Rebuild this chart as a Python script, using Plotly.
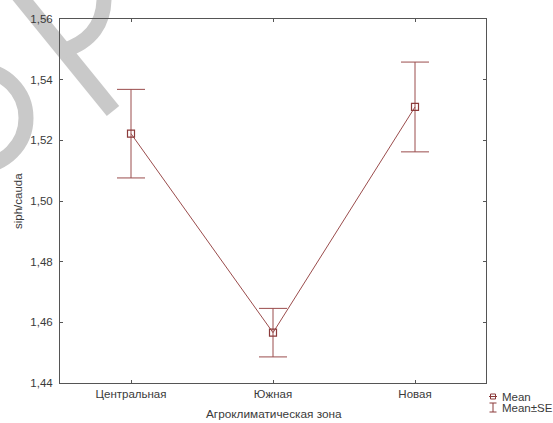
import plotly.graph_objects as go

# Mean siph/cauda ratio by agro-climatic zone, with standard errors
zones = ["Центральная", "Южная", "Новая"]
means = [1.5222, 1.4566, 1.5310]
se = [0.0146, 0.0080, 0.0148]

y_ticks = [1.44, 1.46, 1.48, 1.50, 1.52, 1.54, 1.56]

W, H = 553, 423
L, R, T, B = 60, 486, 19, 383  # plot area in pixels


def px(x):
    return (x - L) / (R - L)


def py(y):
    return (B - y) / (B - T)


def pt(x, y):
    return f"{px(x):.5f},{py(y):.5f}"


MARKER = "#8b3a3a"
LINE = "#9a4c4c"
AXIS = "#555555"
TEXT = "#3a3a3a"
FONT = "Liberation Sans, Arial, sans-serif"

fig = go.Figure()
fig.add_trace(go.Scatter(
    x=zones, y=means,
    mode="lines+markers",
    line=dict(color=LINE, width=1),
    marker=dict(symbol="square-open", size=7, color=MARKER, line=dict(width=1.2)),
    error_y=dict(type="data", array=se, visible=True, color=LINE, thickness=1, width=14),
    showlegend=False,
))

shapes = []
# grey logo stroke behind the upper-left corner
WM = "#c9c9c9"
shapes.append(dict(type="line", xref="paper", yref="paper", layer="below",
                   x0=px(18), y0=py(-6), x1=px(113), y1=py(111),
                   line=dict(color=WM, width=16)))
shapes.append(dict(type="path", xref="paper", yref="paper", layer="below",
                   path=f"M{pt(104, -5)} C{pt(105, 22)} {pt(92, 42)} {pt(62, 51)}",
                   line=dict(color=WM, width=15)))
shapes.append(dict(type="circle", xref="paper", yref="paper", layer="below",
                   x0=px(-22 - 48), y0=py(118 + 48), x1=px(-22 + 48), y1=py(118 - 48),
                   line=dict(color=WM, width=15)))

# legend glyphs
shapes.append(dict(type="line", xref="paper", yref="paper",
                   x0=px(489), y0=py(396.5), x1=px(497), y1=py(396.5),
                   line=dict(color=MARKER, width=1)))
shapes.append(dict(type="rect", xref="paper", yref="paper",
                   x0=px(490.5), y0=py(399), x1=px(495.5), y1=py(394),
                   line=dict(color=MARKER, width=1)))
shapes.append(dict(type="line", xref="paper", yref="paper",
                   x0=px(493), y0=py(403), x1=px(493), y1=py(412),
                   line=dict(color=MARKER, width=1)))
shapes.append(dict(type="line", xref="paper", yref="paper",
                   x0=px(489.5), y0=py(403), x1=px(496.5), y1=py(403),
                   line=dict(color=MARKER, width=1)))
shapes.append(dict(type="line", xref="paper", yref="paper",
                   x0=px(489.5), y0=py(412), x1=px(496.5), y1=py(412),
                   line=dict(color=MARKER, width=1)))

annotations = [
    dict(text="Агроклиматическая зона", xref="paper", yref="paper",
         x=px(273.5), y=py(414), showarrow=False, xanchor="center", yanchor="middle",
         font=dict(family=FONT, size=11.8, color=TEXT)),
    dict(text="siph/cauda", xref="paper", yref="paper",
         x=px(18), y=py(201), showarrow=False, textangle=-90,
         xanchor="center", yanchor="middle",
         font=dict(family=FONT, size=11.5, color=TEXT)),
    dict(text="Mean", xref="paper", yref="paper",
         x=px(499.5), y=py(396.5), showarrow=False, xanchor="left", yanchor="middle",
         font=dict(family=FONT, size=11.5, color=TEXT)),
    dict(text="Mean±SE", xref="paper", yref="paper",
         x=px(499.5), y=py(408), showarrow=False, xanchor="left", yanchor="middle",
         font=dict(family=FONT, size=11.5, color=TEXT)),
]

fig.update_layout(
    width=W, height=H,
    margin=dict(l=L, r=W - R, t=T, b=H - B, pad=0),
    paper_bgcolor="white",
    plot_bgcolor="rgba(0,0,0,0)",
    separators=", ",
    font=dict(family=FONT, size=11.5, color=TEXT),
    shapes=shapes,
    annotations=annotations,
    xaxis=dict(
        type="category", range=[-0.5, 2.5],
        showline=True, linecolor=AXIS, linewidth=1, mirror="ticks",
        ticks="inside", ticklen=3, tickcolor=AXIS, tickwidth=1,
        showgrid=False, zeroline=False,
        tickfont=dict(family=FONT, size=11.5, color=TEXT),
    ),
    yaxis=dict(
        range=[1.44, 1.56], tickvals=y_ticks, tickformat=".2f",
        showline=True, linecolor=AXIS, linewidth=1, mirror="ticks",
        ticks="inside", ticklen=3, tickcolor=AXIS, tickwidth=1,
        showgrid=False, zeroline=False, ticklabelstandoff=4,
        tickfont=dict(family=FONT, size=11.5, color=TEXT),
    ),
)

fig.write_html("out.html")
